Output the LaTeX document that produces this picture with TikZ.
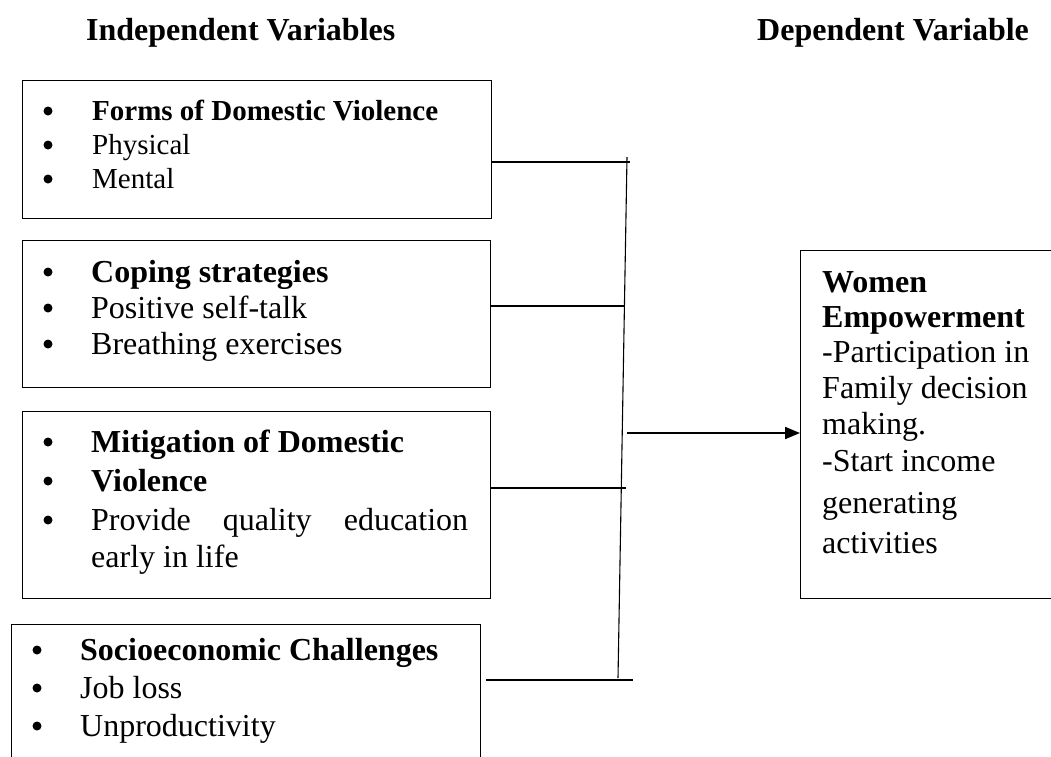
\documentclass[tikz,border=0pt]{standalone}
\usepackage{fontspec}
\setmainfont{Liberation Serif}
\usetikzlibrary{arrows.meta}
\begin{document}
\begin{tikzpicture}[x=1pt,y=-1pt,
  boxline/.style={draw=black,line width=1.4pt,inner sep=0pt,anchor=north west},
  link/.style={draw=black,line width=1.1pt},
  flow/.style={draw=black,line width=2pt,-{Triangle[length=15pt,width=12pt]}},
  txt/.style={anchor=base west,inner sep=0pt,font=\fontsize{32}{37}\selectfont},
  btxt/.style={anchor=base west,inner sep=0pt,font=\fontsize{32}{37}\selectfont\bfseries},
  stxt/.style={anchor=base west,inner sep=0pt,font=\fontsize{29}{34}\selectfont},
  sbtxt/.style={anchor=base west,inner sep=0pt,font=\fontsize{29}{34}\selectfont\bfseries},
  bul/.style={circle,fill=black,inner sep=0pt,minimum size=9pt}]
\clip (0,0) rectangle (1051,756);
\fill[white] (0,0) rectangle (1051,756);

% titles
\node[btxt] (tind) at (86,40) {Independent Variables};
\node[btxt] (tdep) at (757,40) {Dependent Variable};

% boxes
\node[boxline,minimum width=469pt,minimum height=138pt] (b1) at (22,80) {};
\node[boxline,minimum width=468pt,minimum height=147pt] (b2) at (22,240) {};
\node[boxline,minimum width=468pt,minimum height=187pt] (b3) at (22,411) {};
\node[boxline,minimum width=469pt,minimum height=200pt] (b4) at (11,624) {};
\node[boxline,minimum width=290pt,minimum height=348pt] (rb) at (800,250) {};

% box 1
\node[bul] (u1) at (48,111) {};
\node[sbtxt] (l1a) at (92,120) {Forms of Domestic Violence};
\node[bul] (u2) at (48,145) {};
\node[stxt] (l1b) at (92,154) {Physical};
\node[bul] (u3) at (48,179) {};
\node[stxt] (l1c) at (92,188) {Mental};

% box 2
\node[bul] (u4) at (48,272) {};
\node[btxt] (l2a) at (91,282) {Coping strategies};
\node[bul] (u5) at (48,308) {};
\node[txt] (l2b) at (91,318) {Positive self-talk};
\node[bul] (u6) at (48,344) {};
\node[txt] (l2c) at (91,354) {Breathing exercises};

% box 3
\node[bul] (u7) at (48,442) {};
\node[btxt] (l3a) at (91,452) {Mitigation of Domestic};
\node[bul] (u8) at (48,481) {};
\node[btxt] (l3b) at (91,491) {Violence};
\node[bul] (u9) at (48,520) {};
\node[txt] (l3c) at (91,530) {\makebox[377pt][s]{Provide quality education}};
\node[txt] (l3d) at (91,567) {early in life};

% box 4
\node[bul] (u10) at (37,650) {};
\node[btxt] (l4a) at (80,660) {Socioeconomic Challenges};
\node[bul] (u11) at (37,688) {};
\node[txt] (l4b) at (80,698) {Job loss};
\node[bul] (u12) at (37,726) {};
\node[txt] (l4c) at (80,736) {Unproductivity};

% right box
\node[btxt] (r1) at (822,292) {Women};
\node[btxt] (r2) at (822,327) {Empowerment};
\node[txt] (r3) at (822,362) {-Participation in};
\node[txt] (r4) at (822,398) {Family decision};
\node[txt] (r5) at (822,434) {making.};
\node[txt] (r6) at (822,471) {-Start income};
\node[txt] (r7) at (822,513) {generating};
\node[txt] (r8) at (822,553) {activities};

% connectors
\coordinate (vt) at (627,157);
\coordinate (vb) at (618,678);
\draw[link] (vt) -- (vb);
\coordinate (c1) at (630,162);
\coordinate (c2) at (624,306);
\coordinate (c3) at (626,488);
\coordinate (c4) at (633,680);
\draw[link] (b1.east |- c1) -- (c1);
\draw[link] (b2.east |- c2) -- (c2);
\draw[link] (b3.east |- c3) -- (c3);
\draw[link] ([xshift=5pt]b4.east |- c4) -- (c4);
\coordinate (as) at (627,433);
\draw[flow] (as) -- (rb.west |- as);
\end{tikzpicture}
\end{document}
